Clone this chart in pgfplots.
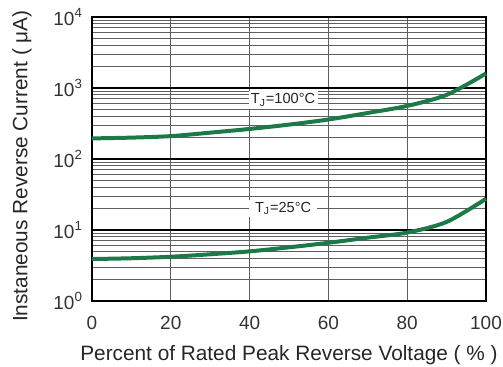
\documentclass[border=0pt]{standalone}
\usepackage{fontspec}
\setmainfont{Liberation Sans}
\usepackage{pgfplots}
\pgfplotsset{compat=1.18}
\definecolor{curve}{RGB}{28,122,72}
\definecolor{gridg}{RGB}{95,95,95}
\begin{document}
\begin{tikzpicture}
\begin{axis}[
  scale only axis,
  width=197pt, height=142pt,
  xmin=0, xmax=100, ymin=1, ymax=10000,
  ymode=log,
  xtick={0,20,40,60,80,100},
  ytick={1,10,100,1000,10000},
  yticklabels={10\textsuperscript{0},10\textsuperscript{1},10\textsuperscript{2},10\textsuperscript{3},10\textsuperscript{4}},
  /pgf/number format/assume math mode=true,
  tick label style={font=\fontsize{9.5}{11}\selectfont, text=black!80},
  major tick length=0pt, minor tick length=0pt,
  xmajorgrids, ymajorgrids, yminorgrids,
  x grid style={gridg, line width=0.6pt},
  major y grid style={black, line width=0.9pt},
  minor y grid style={gridg, line width=0.5pt},
  axis line style={black, line width=1.2pt},
  xlabel={Percent of Rated Peak Reverse Voltage ( \% )},
  ylabel={Instaneous Reverse Current ( μA)},
  label style={font=\fontsize{10.4}{12}\selectfont, text=black!85},
  xlabel style={at={(axis description cs:0.5,-0.19)}, anchor=center},
  ylabel style={at={(axis description cs:-0.178,0.475)}, anchor=center},
  xticklabel style={yshift=-4pt},
  yticklabel style={xshift=-1pt},
  clip=false,
]
\addplot[curve, line width=2pt, smooth] coordinates {
(0,195) (10,200) (20,210) (30,235) (40,265) (50,305) (60,360) (70,445) (80,560) (90,800) (100,1600)};
\addplot[curve, line width=2pt, smooth] coordinates {
(0,3.9) (10,4.0) (20,4.2) (30,4.55) (40,5.0) (50,5.7) (60,6.6) (70,7.8) (80,9.2) (90,13) (100,27.5)};
\node[fill=white, inner sep=1.2pt, font=\fontsize{7.3}{8}\selectfont, text=black!85] at (axis cs:48.5,680) {T\textsubscript{J}=100°C};
\node[fill=white, inner xsep=3pt, inner ysep=1pt, font=\fontsize{7.3}{8}\selectfont, text=black!85] at (axis cs:48.5,20) {T\textsubscript{J}=25°C};
\end{axis}
\pgfresetboundingbox
\path ([shift={(-46pt,-33pt)}]current axis.south west) rectangle ([shift={(8.5pt,8.5pt)}]current axis.north east);
\end{tikzpicture}
\end{document}
